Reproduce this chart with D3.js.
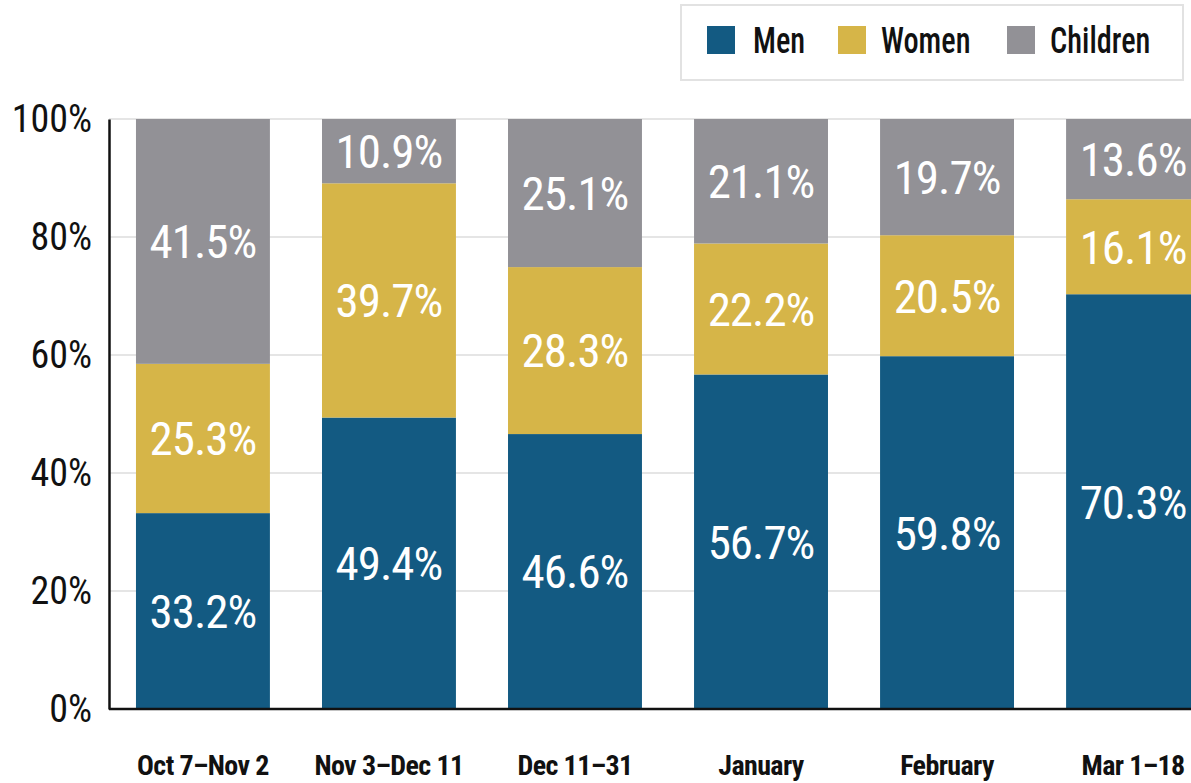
<!DOCTYPE html>
<html>
<head>
<meta charset="utf-8">
<script src="https://cdn.jsdelivr.net/npm/d3@7"></script>
<style>
  body { margin: 0; background: #fff; }
  text { font-family: "Roboto Condensed", "Liberation Sans Narrow", "DejaVu Sans Condensed", sans-serif; }
</style>
</head>
<body>
<div id="chart"></div>
<script>
const periods = ["Oct 7\u2013Nov 2", "Nov 3\u2013Dec 11", "Dec 11\u201331", "January", "February", "Mar 1\u201318"];
const men = [33.2, 49.4, 46.6, 56.7, 59.8, 70.3];
const women = [25.3, 39.7, 28.3, 22.2, 20.5, 16.1];
const children = [41.5, 10.9, 25.1, 21.1, 19.7, 13.6];
const seriesNames = ["Men", "Women", "Children"];
const yTicks = [0, 20, 40, 60, 80, 100];

const colors = {Men: "#135a82", Women: "#d6b548", Children: "#929196"};

const W = 1191, H = 783;
const svg = d3.select("#chart").append("svg")
  .attr("width", W).attr("height", H);

const x = d3.scaleBand()
  .domain(periods)
  .range([109, 1227])
  .paddingInner(0.28)
  .paddingOuter(0.145);

const y = d3.scaleLinear()
  .domain([0, 100])
  .range([709, 119]);

// gridlines
svg.append("g")
  .selectAll("line")
  .data(yTicks.filter(d => d > 0))
  .join("line")
    .attr("x1", 109).attr("x2", W)
    .attr("y1", d => y(d)).attr("y2", d => y(d))
    .attr("stroke", "#dcdcdc").attr("stroke-width", 1.5);

// stack the data
const rows = periods.map((p, i) => ({period: p, Men: men[i], Women: women[i], Children: children[i]}));
const stacked = d3.stack().keys(seriesNames)(rows);

const layer = svg.append("g")
  .selectAll("g")
  .data(stacked)
  .join("g")
    .attr("fill", d => colors[d.key]);

layer.selectAll("rect")
  .data(d => d)
  .join("rect")
    .attr("x", d => x(d.data.period))
    .attr("y", d => y(d[1]))
    .attr("width", x.bandwidth())
    .attr("height", d => y(d[0]) - y(d[1]));

layer.selectAll("text")
  .data(d => d.map(v => Object.assign(v, {key: d.key})))
  .join("text")
    .attr("x", d => x(d.data.period) + x.bandwidth() / 2)
    .attr("y", d => (y(d[0]) + y(d[1])) / 2)
    .attr("dy", "0.36em")
    .attr("text-anchor", "middle")
    .attr("fill", "#fff")
    .style("font-size", "47px")
    .style("letter-spacing", "-1px")
    .text(d => d.data[d.key].toFixed(1) + "%");

// axes
const yAxis = svg.append("g")
  .attr("transform", "translate(109,0)")
  .call(d3.axisLeft(y).tickValues(yTicks).tickSize(0).tickPadding(17).tickFormat(d => d + "%"));
yAxis.select(".domain").attr("stroke", "#111").attr("stroke-width", 2.5);
yAxis.selectAll("text")
  .style("font-size", "38px")
  .attr("fill", "#111")
  .attr("font-family", null);

const xAxis = svg.append("g")
  .attr("transform", "translate(0,709)")
  .call(d3.axisBottom(x).tickSize(0).tickPadding(46));
xAxis.select(".domain").attr("d", "M109,0H" + W).attr("stroke", "#111").attr("stroke-width", 2.5);
xAxis.selectAll("text")
  .style("font-size", "28px")
  .style("font-weight", "bold")
  .style("letter-spacing", "-0.6px")
  .attr("fill", "#111")
  .attr("font-family", null);

// legend
const legend = svg.append("g");
legend.append("rect")
  .attr("x", 681).attr("y", 5).attr("width", 502).attr("height", 75)
  .attr("fill", "#fff").attr("stroke", "#e2e2e2").attr("stroke-width", 2);
const legendX = [707, 838, 1007];
const items = legend.selectAll("g.item")
  .data(seriesNames)
  .join("g")
    .attr("class", "item")
    .attr("transform", (d, i) => `translate(${legendX[i]},26)`);
items.append("rect")
  .attr("width", 28).attr("height", 28)
  .attr("fill", d => colors[d]);
items.append("g")
  .attr("transform", d => `translate(${d === "Men" ? 46 : 43},14) scale(0.82,1)`)
  .append("text")
    .attr("dy", "0.36em")
    .attr("fill", "#111")
    .style("font-size", "37px")
    .style("font-weight", 500)
    .text(d => d);
</script>
</body>
</html>
